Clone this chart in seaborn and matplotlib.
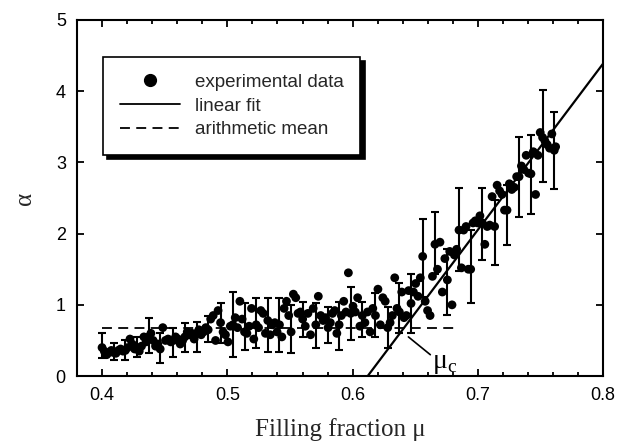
import numpy as np
import pandas as pd
import seaborn as sns
import matplotlib.pyplot as plt
from matplotlib.lines import Line2D
from matplotlib.ticker import MultipleLocator

# filling fraction of each measured point
mu = [
    0.4000, 0.4018, 0.4037, 0.4055, 0.4074, 0.4093, 0.4111, 0.4130, 0.4148, 0.4167,
    0.4186, 0.4204, 0.4223, 0.4241, 0.4260, 0.4279, 0.4297, 0.4315, 0.4334, 0.4352,
    0.4371, 0.4390, 0.4408, 0.4427, 0.4445, 0.4464, 0.4485, 0.4506, 0.4527, 0.4548,
    0.4569, 0.4587, 0.4606, 0.4624, 0.4643, 0.4661, 0.4680, 0.4698, 0.4717, 0.4735,
    0.4754, 0.4773, 0.4791, 0.4810, 0.4828, 0.4847, 0.4867, 0.4887, 0.4906, 0.4926,
    0.4946, 0.4966, 0.4985, 0.5005, 0.5024, 0.5044, 0.5063, 0.5081, 0.5100, 0.5118,
    0.5137, 0.5156, 0.5174, 0.5193, 0.5211, 0.5230, 0.5249, 0.5267, 0.5286, 0.5304,
    0.5323, 0.5342, 0.5360, 0.5379, 0.5397, 0.5416, 0.5435, 0.5453, 0.5472, 0.5490,
    0.5509, 0.5527, 0.5546, 0.5564, 0.5583, 0.5601, 0.5622, 0.5643, 0.5664, 0.5685,
    0.5706, 0.5726, 0.5745, 0.5765, 0.5784, 0.5804, 0.5822, 0.5839, 0.5857, 0.5874,
    0.5892, 0.5910, 0.5929, 0.5947, 0.5966, 0.5984, 0.6003, 0.6021, 0.6040, 0.6058,
    0.6077, 0.6098, 0.6119, 0.6140, 0.6161, 0.6182, 0.6202, 0.6221, 0.6241, 0.6260,
    0.6280, 0.6299, 0.6317, 0.6336, 0.6354, 0.6373, 0.6392, 0.6410, 0.6429, 0.6447,
    0.6466, 0.6485, 0.6503, 0.6522, 0.6540, 0.6559, 0.6579, 0.6598, 0.6618, 0.6637,
    0.6657, 0.6677, 0.6697, 0.6716, 0.6736, 0.6756, 0.6775, 0.6793, 0.6812, 0.6830,
    0.6849, 0.6868, 0.6886, 0.6905, 0.6923, 0.6942, 0.6961, 0.6979, 0.6998, 0.7016,
    0.7035, 0.7055, 0.7074, 0.7094, 0.7113, 0.7133, 0.7153, 0.7173, 0.7192, 0.7212,
    0.7232, 0.7251, 0.7270, 0.7290, 0.7309, 0.7328, 0.7347, 0.7366, 0.7385, 0.7404,
    0.7423, 0.7442, 0.7460, 0.7479, 0.7497, 0.7516, 0.7535, 0.7553, 0.7572, 0.7590,
    0.7609, 0.7620,
]

# measured alpha at each point
alpha = [
    0.40, 0.35, 0.30, 0.33, 0.36, 0.33, 0.32, 0.36, 0.38, 0.35,
    0.36, 0.40, 0.52, 0.45, 0.38, 0.40, 0.35, 0.42, 0.55, 0.48,
    0.55, 0.60, 0.50, 0.42, 0.45, 0.38, 0.68, 0.50, 0.52, 0.48,
    0.50, 0.55, 0.52, 0.45, 0.50, 0.55, 0.62, 0.58, 0.60, 0.52,
    0.60, 0.65, 0.58, 0.62, 0.68, 0.65, 0.80, 0.85, 0.50, 0.92,
    0.75, 0.62, 0.58, 0.48, 0.70, 0.72, 0.82, 0.68, 1.05, 0.80,
    0.62, 0.60, 0.70, 0.95, 0.52, 0.72, 0.68, 0.92, 0.88, 0.60,
    0.78, 0.58, 0.72, 0.75, 0.62, 0.72, 0.55, 0.95, 1.05, 0.85,
    0.62, 1.15, 1.10, 0.88, 0.90, 0.80, 0.70, 0.88, 0.58, 0.95,
    0.72, 1.12, 0.85, 0.78, 0.82, 0.68, 0.75, 0.88, 0.92, 0.60,
    0.72, 0.85, 1.05, 0.90, 1.45, 0.88, 0.98, 0.90, 1.10, 0.70,
    0.85, 0.75, 0.90, 0.62, 0.95, 0.85, 1.22, 0.72, 1.10, 1.05,
    0.68, 0.75, 0.85, 1.38, 0.95, 0.90, 1.18, 0.82, 0.85, 1.20,
    1.02, 1.18, 1.30, 1.12, 1.38, 1.68, 1.05, 0.92, 0.85, 1.40,
    1.85, 1.50, 1.88, 1.18, 1.65, 1.35, 1.75, 1.00, 1.70, 1.78,
    2.05, 1.52, 2.05, 2.10, 1.50, 1.50, 2.15, 2.18, 2.15, 2.25,
    2.15, 1.85, 2.10, 2.12, 2.52, 2.10, 2.68, 2.60, 2.55, 2.33,
    2.33, 2.70, 2.62, 2.65, 2.80, 2.80, 2.95, 2.90, 3.10, 2.85,
    2.84, 3.15, 2.55, 3.10, 3.42, 3.35, 3.30, 3.25, 3.20, 3.40,
    3.17, 3.22,
]

# error bar ends for every fifth point
bar_lo = [0.25, 0.22, 0.22, 0.27, 0.32, 0.18, 0.27, 0.34, 0.34, 0.48,
          0.46, 0.27, 0.37, 0.40, 0.34, 0.34, 0.32, 0.55, 0.39, 0.46,
          0.37, 0.50, 0.55, 0.55, 0.39, 0.60, 0.60, 1.11, 1.44, 0.86,
          1.47, 1.02, 1.63, 1.56, 1.84, 2.24, 2.28, 2.73, 2.62]
bar_hi = [0.60, 0.46, 0.50, 0.55, 0.82, 0.60, 0.67, 0.75, 0.76, 0.85,
          1.02, 1.18, 1.02, 1.10, 1.10, 1.10, 1.00, 1.04, 1.03, 0.97,
          1.04, 1.25, 1.04, 1.16, 0.97, 1.31, 1.43, 2.21, 2.31, 1.79,
          2.64, 2.05, 2.64, 2.47, 2.68, 3.36, 3.38, 4.02, 3.71]

mean_alpha = 0.68
mean_range = [0.40, 0.685]
fit_slope = 23.35
fit_mu0 = 0.612

df = pd.DataFrame({"mu": mu, "alpha": alpha})
bars = df.iloc[::5].reset_index(drop=True)
bars["lo"] = bar_lo
bars["hi"] = bar_hi

sns.set_style("ticks")
plt.rcParams["font.family"] = ["Liberation Sans", "DejaVu Sans"]

fig = plt.figure(figsize=(6.31, 4.44), dpi=100)
ax = fig.add_axes([0.122, 0.153, 0.834, 0.802])

ax.errorbar(bars["mu"], bars["alpha"],
            yerr=[bars["alpha"] - bars["lo"], bars["hi"] - bars["alpha"]],
            fmt="none", ecolor="black", elinewidth=1.5, capsize=3, capthick=1.5, zorder=2)
sns.scatterplot(data=df, x="mu", y="alpha", color="black", s=40, edgecolor="none",
                ax=ax, zorder=3, legend=False)

ax.plot(mean_range, [mean_alpha, mean_alpha], color="black", lw=1.3,
        dashes=(5.5, 3.5), zorder=1)
ax.axline((fit_mu0, 0), slope=fit_slope, color="black", lw=1.6, zorder=4)

# mu_c marker
ax.plot([0.6445, 0.662], [0.55, 0.30], color="black", lw=1.2)
ax.text(0.6635, 0.12, r"μ$_\mathregular{c}$", fontfamily="Liberation Serif",
        fontsize=20, color="black")

ax.set_xlim(0.38, 0.8)
ax.set_ylim(0, 5)
ax.xaxis.set_minor_locator(MultipleLocator(0.02))
ax.yaxis.set_major_locator(MultipleLocator(1))
ax.set_xticks([0.4, 0.5, 0.6, 0.7, 0.8])
ax.set_xticklabels(["0.4", "0.5", "0.6", "0.7", "0.8"])
ax.tick_params(which="both", direction="in", top=True, right=True, width=1.3,
               labelsize=13, colors="black")
ax.tick_params(which="major", length=5, pad=8)
ax.tick_params(which="minor", length=3)
for sp in ax.spines.values():
    sp.set_linewidth(1.5)
    sp.set_color("black")

ax.set_xlabel("Filling fraction μ", fontfamily="Liberation Serif", fontsize=18, labelpad=10)
ax.set_ylabel("α", fontfamily="Liberation Serif", fontsize=18, labelpad=14)

handles = [
    Line2D([], [], marker="o", ls="none", color="black", markersize=8.5),
    Line2D([], [], color="black", lw=1.3),
    Line2D([], [], color="black", lw=1.3, dashes=(5.5, 3.5)),
]
leg = ax.legend(handles, ["experimental data", "linear fit", "arithmetic mean"],
                loc="upper left", bbox_to_anchor=(0.049, 0.896), fontsize=13.5,
                frameon=True, fancybox=False, edgecolor="black", framealpha=1,
                shadow={"color": "black", "alpha": 1, "ox": 3, "oy": -3},
                borderpad=0.9, handlelength=3.2, handletextpad=0.8, labelspacing=0.35,
                borderaxespad=0)
leg.get_frame().set_linewidth(1.2)

fig.savefig("out.png", dpi=100)
